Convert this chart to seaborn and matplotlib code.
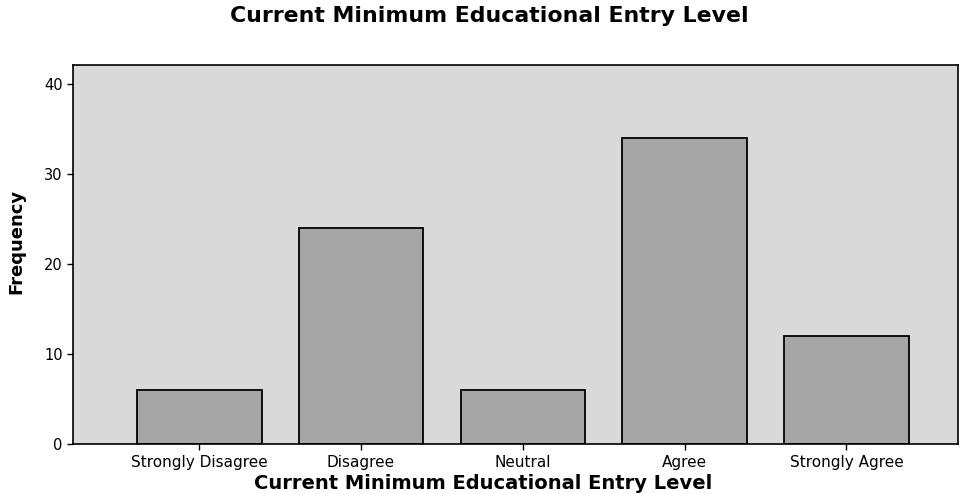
import numpy as np
import pandas as pd
import matplotlib
matplotlib.use("Agg")
import matplotlib.pyplot as plt
import seaborn as sns

# frequencies
categories = ["Strongly Disagree", "Disagree", "Neutral", "Agree", "Strongly Agree"]
frequency = [6, 24, 6, 34, 12]

df = pd.DataFrame({"level": categories, "freq": frequency})

sns.set_style("ticks")
plt.rcParams["font.family"] = ["DejaVu Sans"]
plt.rcParams["text.color"] = "black"
plt.rcParams["axes.labelcolor"] = "black"
plt.rcParams["xtick.color"] = "black"
plt.rcParams["ytick.color"] = "black"

fig = plt.figure(figsize=(9.61, 4.94), dpi=100)
ax = fig.add_axes([0.076, 0.101, 0.921, 0.767])
ax.set_facecolor("#d9d9d9")

sns.barplot(data=df, x="level", y="freq", order=categories, color="#a6a6a6",
            saturation=1, width=0.77, edgecolor="black", linewidth=1.3, ax=ax)

ax.set_xlim(-0.78, 4.69)
ax.set_ylim(0, 42.1)
ax.set_yticks([0, 10, 20, 30, 40])

for s in ax.spines.values():
    s.set_color("black")
    s.set_linewidth(1.2)

ax.tick_params(axis="y", labelsize=10.5, length=4, width=1)
ax.tick_params(axis="x", labelsize=11, length=4, width=1)

ax.set_xlabel("Current Minimum Educational Entry Level", fontsize=14,
              fontweight="bold")
ax.xaxis.set_label_coords(0.463, -0.08)
ax.set_ylabel("Frequency", fontsize=13, fontweight="bold")
ax.yaxis.set_label_coords(-0.054, 0.535)
fig.suptitle("Current Minimum Educational Entry Level", fontsize=15.8,
             fontweight="bold", x=0.509, y=0.987)

fig.savefig("out.png", dpi=100)
